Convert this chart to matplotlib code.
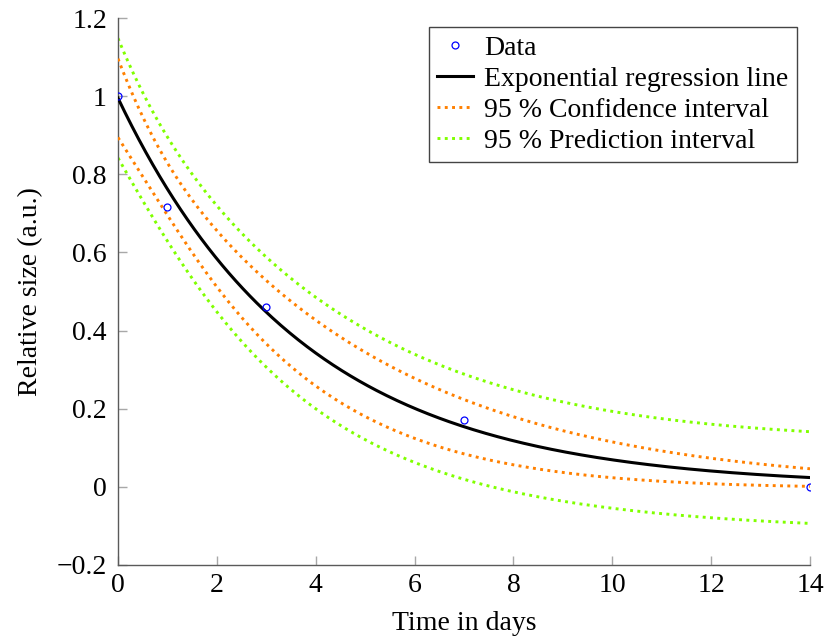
import numpy as np
import matplotlib
matplotlib.use("Agg")
import matplotlib.pyplot as plt

# Measurements: relative size over time
days = [0, 1, 3, 7, 14]
rel_size = [1.0, 0.717, 0.46, 0.171, 0.0]

# Exponential model y = amp * exp(-rate * t) and its residual spread
amp = 0.995
rate = 0.2666
resid_sd = 0.0362
t_crit = 3.182  # two-sided 95 %, 3 degrees of freedom

xticks = [0, 2, 4, 6, 8, 10, 12, 14]
yticks = [-0.2, 0, 0.2, 0.4, 0.6, 0.8, 1.0, 1.2]
ytick_labels = ["\u22120.2", "0", "0.2", "0.4", "0.6", "0.8", "1", "1.2"]

plt.rcParams["font.family"] = ["Liberation Serif", "DejaVu Serif"]


def model(t):
    return amp * np.exp(-rate * t)


def jacobian(t):
    t = np.asarray(t, dtype=float)
    e = np.exp(-rate * t)
    return np.column_stack([e, -amp * t * e])


# Parameter covariance from the design at the measured days
J = jacobian(days)
cov = resid_sd ** 2 * np.linalg.inv(J.T @ J)

t = np.linspace(0, 14, 400)
G = jacobian(t)
var_fit = np.einsum("ij,jk,ik->i", G, cov, G)
y_fit = model(t)
ci = t_crit * np.sqrt(var_fit)
pi = t_crit * np.sqrt(var_fit + resid_sd ** 2)

fig = plt.figure(figsize=(8.27, 6.36), dpi=100)
ax = fig.add_axes([118 / 827, 1 - 565 / 636, 692 / 827, 547 / 636])

orange = "#ff8000"
lime = "#80ff00"
dot = (0, (1.0, 1.5))

ax.plot(days, rel_size, linestyle="none", marker="o", markersize=5,
        markerfacecolor="none", markeredgecolor="#0000ff",
        markeredgewidth=0.9, label="Data", zorder=5)
ax.plot(t, y_fit, color="black", lw=2.2, label="Exponential regression line",
        zorder=4)
ax.plot(t, y_fit + ci, color=orange, lw=2.1, linestyle=dot,
        dash_capstyle="butt", label="95 % Confidence interval", zorder=3)
ax.plot(t, y_fit - ci, color=orange, lw=2.1, linestyle=dot,
        dash_capstyle="butt", zorder=3)
ax.plot(t, y_fit + pi, color=lime, lw=2.1, linestyle=dot,
        dash_capstyle="butt", label="95 % Prediction interval", zorder=2)
ax.plot(t, y_fit - pi, color=lime, lw=2.1, linestyle=dot,
        dash_capstyle="butt", zorder=2)

ax.set_xlim(0, 14)
ax.set_ylim(-0.2, 1.2)
ax.set_xticks(xticks)
ax.set_xticklabels([str(v) for v in xticks])
ax.set_yticks(yticks)
ax.set_yticklabels(ytick_labels)

for side in ("top", "right"):
    ax.spines[side].set_visible(False)
for side in ("left", "bottom"):
    ax.spines[side].set_color("#5a5a5a")
    ax.spines[side].set_linewidth(1.0)

ax.tick_params(direction="in", length=6.5, width=1.0, color="#a8a8a8",
               labelsize=20, labelcolor="black")
ax.tick_params(axis="x", pad=6)
ax.tick_params(axis="y", pad=8)

ax.set_xlabel("Time in days", fontsize=20, labelpad=9)
ax.set_ylabel("Relative size (a.u.)", fontsize=20, labelpad=10)

leg = ax.legend(loc="upper right", bbox_to_anchor=(0.9812, 0.9835),
                fontsize=20, numpoints=1, handlelength=1.3,
                handletextpad=0.4, labelspacing=0.2, borderpad=0.3,
                borderaxespad=0.0, fancybox=False, framealpha=1.0)
leg.get_frame().set_edgecolor("#444444")
leg.get_frame().set_linewidth(1.0)

fig.savefig("out.png", dpi=100)
